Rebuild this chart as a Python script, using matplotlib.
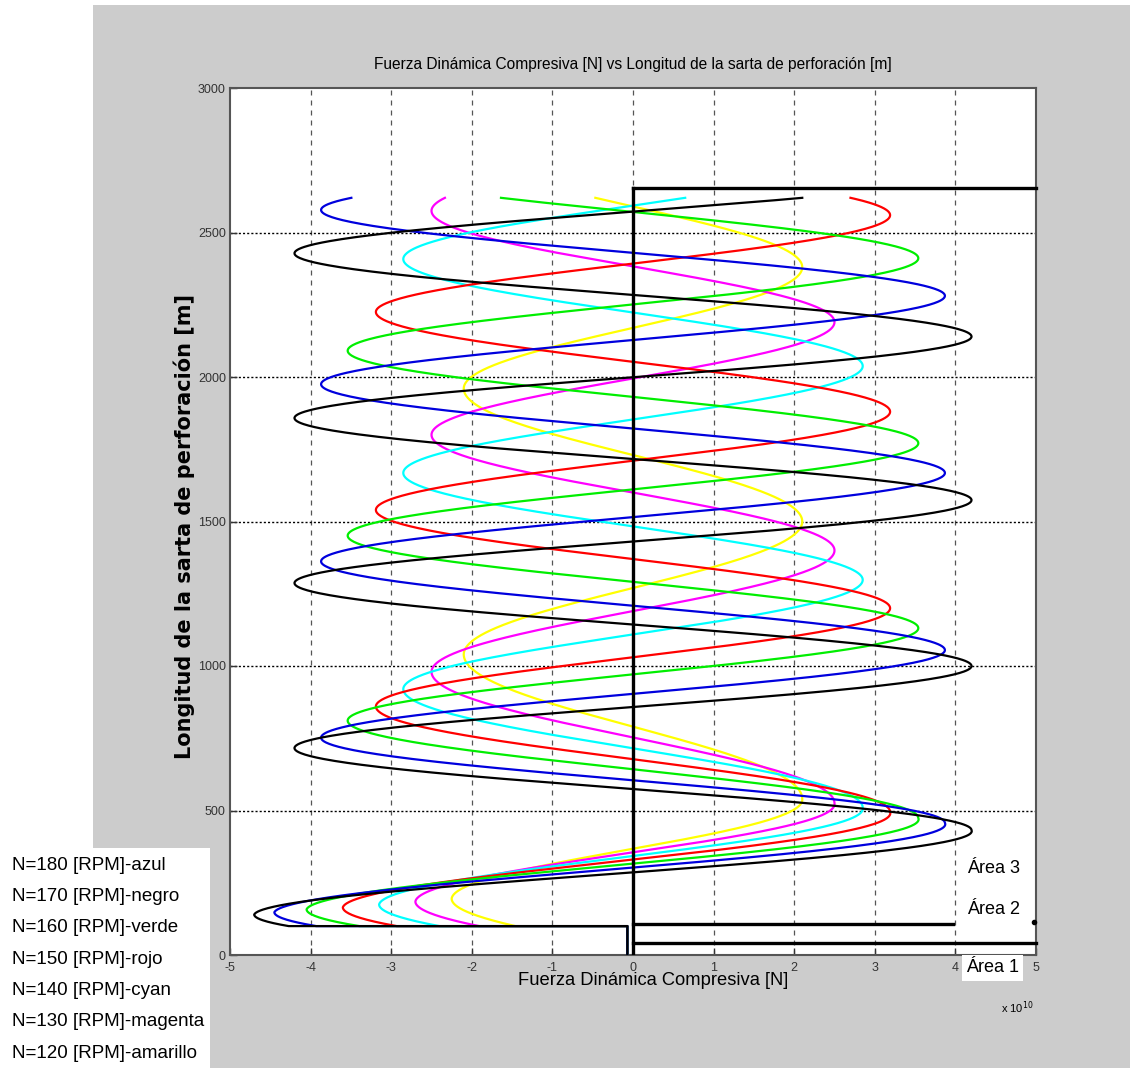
import numpy as np
import matplotlib.pyplot as plt
from matplotlib.patches import Rectangle

# ----- data -----
# depth [m] of each turning point (left, right, left, ...) for every curve
names = ['amarillo', 'magenta', 'cyan', 'rojo', 'verde', 'azul', 'negro']
colors = ['#ffff00', '#ff00ff', '#00ffff', '#ff0000', '#00ee00', '#0000dd', '#000000']
amplitude = [2.1, 2.5, 2.85, 3.19, 3.54, 3.87, 4.2]          # x 1e10 N, upper string
bottom_amplitude = [2.25, 2.7, 3.15, 3.6, 4.05, 4.45, 4.7]   # x 1e10 N, first left tip
tips_amarillo = [195, 540, 1040, 1500, 1960, 2380]
tips_magenta = [185, 525, 980, 1400, 1800, 2190, 2575]
tips_cyan = [175, 510, 920, 1298, 1668, 2038, 2408]
tips_rojo = [165, 495, 860, 1200, 1540, 1880, 2225, 2560]
tips_verde = [158, 474, 811, 1131, 1451, 1771, 2091, 2411]
tips_azul = [148, 457, 752, 1055, 1362, 1668, 1975, 2281, 2578]
tips_negro = [140, 432, 716, 1000, 1287, 1574, 1858, 2140, 2428]
all_tips = [tips_amarillo, tips_magenta, tips_cyan, tips_rojo, tips_verde, tips_azul, tips_negro]
L_start = 100
L_end = 2620
stub_x = -0.07

legend_lines = ['N=180 [RPM]-azul', 'N=170 [RPM]-negro', 'N=160 [RPM]-verde',
                'N=150 [RPM]-rojo', 'N=140 [RPM]-cyan', 'N=130 [RPM]-magenta',
                'N=120 [RPM]-amarillo']

xticks = [-5, -4, -3, -2, -1, 0, 1, 2, 3, 4, 5]
yticks = [0, 500, 1000, 1500, 2000, 2500, 3000]

sans = ['Liberation Sans', 'DejaVu Sans']

W, H = 1130, 1068
fig = plt.figure(figsize=(W / 100, H / 100), dpi=100)
fig.patch.set_facecolor('white')

# gray MATLAB figure panel
fig.patches.append(Rectangle((93 / W, 0), 1 - 93 / W, 1 - 5 / H, transform=fig.transFigure,
                             facecolor='#cccccc', edgecolor='none', zorder=-10))

ax = fig.add_axes([230 / W, 1 - 955 / H, (1036 - 230) / W, (955 - 88) / H])
ax.set_facecolor('white')
ax.set_xlim(-5, 5)
ax.set_ylim(0, 3000)


def curve(tips, amp, amp0):
    tips = np.asarray(tips, dtype=float)
    # phase = k*pi at every turning point, left turning points are even k
    ph_tips = np.pi * np.arange(len(tips))
    first_slope = np.pi / (tips[1] - tips[0])
    last_slope = np.pi / (tips[-1] - tips[-2])
    L = np.linspace(L_start, L_end, 1500)
    ph = np.interp(L, tips, ph_tips)
    ph = np.where(L < tips[0], (L - tips[0]) * first_slope, ph)
    ph = np.where(L > tips[-1], ph_tips[-1] + (L - tips[-1]) * last_slope, ph)
    a = np.interp(ph, [0, np.pi], [amp0, amp])
    x = -a * np.cos(ph)
    # short straight section at the bottom of the string
    x = np.concatenate([[stub_x, stub_x], x])
    L = np.concatenate([[0, L_start], L])
    return x, L


for tips, amp, amp0, c in zip(all_tips, amplitude, bottom_amplitude, colors):
    x, L = curve(tips, amp, amp0)
    ax.plot(x, L, color=c, lw=1.6, zorder=3)

# area boundaries
ax.plot([0, 0], [0, 2655], color='black', lw=2.4, zorder=4)
ax.plot([0, 5], [2655, 2655], color='black', lw=2.4, zorder=4, clip_on=False)
ax.plot([0, 3.97], [107, 107], color='black', lw=2.4, zorder=4)
ax.plot([0, 5], [42, 42], color='black', lw=2.4, zorder=4, clip_on=False)
ax.plot([4.98], [115], marker='o', ms=3, color='black', zorder=4, clip_on=False)

# grid
for xv in xticks[1:-1]:
    ax.axvline(xv, color='#555555', lw=0.9, ls=(0, (4, 4)), zorder=1)
for yv in yticks[1:-1]:
    ax.axhline(yv, color='black', lw=1.0, ls=(0, (1.5, 1.5)), zorder=1)

ax.set_xticks(xticks)
ax.set_yticks(yticks)
ax.set_xticklabels([str(v) for v in xticks], family=sans, fontsize=9)
ax.set_yticklabels([str(v) for v in yticks], family=sans, fontsize=9)
ax.tick_params(direction='in', length=5, width=1, colors='#333333')
ax.tick_params(axis='x', pad=5)
ax.tick_params(axis='y', pad=3)
for s in ax.spines.values():
    s.set_color('#555555')
    s.set_linewidth(1.5)

ax.set_title('Fuerza Dinámica Compresiva [N] vs Longitud de la sarta de perforación [m]',
             family=sans, fontsize=11.2, pad=14)
ax.set_xlabel('Fuerza Dinámica Compresiva [N]', family=sans, fontsize=13.2, labelpad=0)
ax.xaxis.set_label_coords(0.525, -0.0195)
ax.xaxis.label.set_va('top')
ax.set_ylabel('Longitud de la sarta de perforación [m]', family='DejaVu Sans',
              fontweight='bold', fontsize=15)
ax.yaxis.set_label_coords(-0.043, 0.494)
fig.text(1017 / W, 1 - 1008 / H, r'x 10$^{10}$', family=sans, fontsize=8, ha='center', va='center')

# area labels
ax.text(4.15, 301, 'Área 3', family=sans, fontsize=13, va='center', ha='left')
ax.text(4.15, 156, 'Área 2', family=sans, fontsize=13, va='center', ha='left')
fig.text(966 / W, 1 - 968 / H, 'Área 1', family=sans, fontsize=13, va='center', ha='left',
         bbox=dict(facecolor='white', edgecolor='none', pad=3), zorder=10)

# legend box written as text
fig.patches.append(Rectangle((0, 0), 210 / W, (1068 - 848) / H, transform=fig.transFigure,
                             facecolor='white', edgecolor='none', zorder=-5))
for i, t in enumerate(legend_lines):
    fig.text(12 / W, 1 - (865 + 31.4 * i) / H, t, family=sans, fontsize=13.5,
             va='center', ha='left', zorder=5)

fig.savefig('out.png', dpi=100)
